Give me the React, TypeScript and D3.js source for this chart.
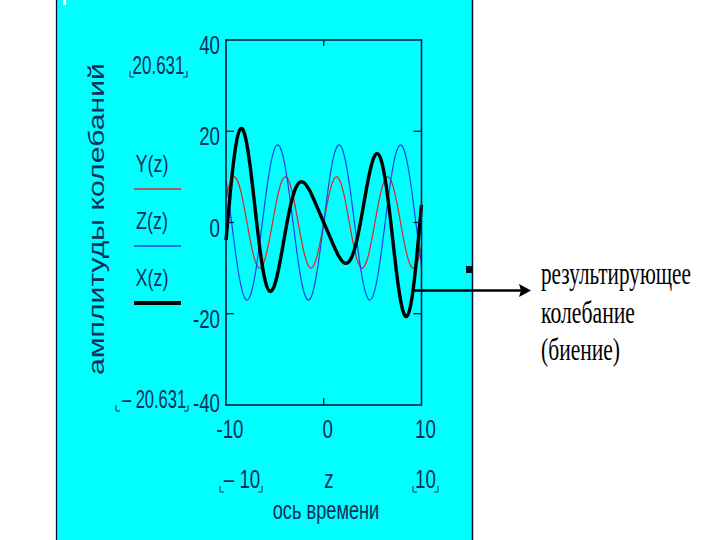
import React, { useLayoutEffect, useRef, useState } from "react";
import * as d3 from "d3";

// z samples (ось времени)
const zSamples = [
  -10, -9.5, -9, -8.5, -8, -7.5, -7, -6.5, -6, -5.5, -5, -4.5, -4, -3.5, -3, -2.5, -2, -1.5, -1, -0.5,
  0, 0.5, 1, 1.5, 2, 2.5, 3, 3.5, 4, 4.5, 5, 5.5, 6, 6.5, 7, 7.5, 8, 8.5, 9, 9.5, 10,
];
// Y(z) – red
const yValues = [
  5.37, 9.19, 9.81, 7.0, 1.74, -4.12, -8.55, -9.99, -7.94, -3.12, 2.79, 7.73, 9.96, 8.72, 4.43, -1.41, -6.75, -9.74, -9.32, -5.65,
  0, 5.65, 9.32, 9.74, 6.75, 1.41, -4.43, -8.72, -9.96, -7.73, -2.79, 3.12, 7.94, 9.99, 8.55, 4.12, -1.74, -7.0, -9.81, -9.19, -5.37,
];
// Z(z) – blue
const zValues = [
  9.25, 1.28, -7.01, -13.57, -16.82, -15.95, -11.17, -3.66, 4.75, 11.99, 16.3, 16.62, 12.87, 5.96, -2.4, -10.17, -15.46, -16.96, -14.31, -8.15,
  0, 8.15, 14.31, 16.96, 15.46, 10.17, 2.4, -5.96, -12.87, -16.62, -16.3, -11.99, -4.75, 3.66, 11.17, 15.95, 16.82, 13.57, 7.01, -1.28, -9.25,
];
// X(z) – black (result)
const xValues = [
  -3.88, 7.91, 16.82, 20.57, 18.56, 11.83, 2.62, -6.33, -12.69, -15.11, -13.51, -8.89, -2.91, 2.76, 6.83, 8.76, 8.71, 7.22, 4.99, 2.5,
  0, -2.5, -4.99, -7.22, -8.71, -8.76, -6.83, -2.76, 2.91, 8.89, 13.51, 15.11, 12.69, 6.33, -2.62, -11.83, -18.56, -20.57, -16.82, -7.91, 3.88,
];

const yTicks = [40, 20, 0, -20, -40];
const yTickLabels = ["40", "20", "0", "-20", "-40"];
const xTicks = [-10, 0, 10];
const xTickLabels = ["-10", "0", "10"];
const innerTicksY = [20, 0, -20];
const yLimitLabels = ["20.631", "– 20.631"];
const xLimitLabels = ["– 10", "10"];
const legendNames = ["Y(z)", "Z(z)", "X(z)"];
const rightText = ["результирующее", "колебание", "(биение)"];

const TXT = "#10305a";
const SANS = "'Liberation Sans', Arial, sans-serif";
const SERIF = "'Liberation Serif', 'Times New Roman', serif";

function NText(props: any) {
  const { x, y, sx = 0.75, anchor = "start", size = 24, fill = TXT, children } = props;
  return (
    <text
      transform={`translate(${x},${y}) scale(${sx},1)`}
      textAnchor={anchor}
      fontSize={size}
      fontFamily={SANS}
      fill={fill}
    >
      {children}
    </text>
  );
}

// text squeezed horizontally to a target width (measured, then scaled)
function FitText({ x, y, width, size, family, fill, children }: any) {
  const ref = useRef<SVGTextElement>(null);
  const [s, setS] = useState(0.68);
  useLayoutEffect(() => {
    if (ref.current) {
      const w = ref.current.getComputedTextLength();
      if (w > 0) setS(width / w);
    }
  }, [width, children]);
  return (
    <text
      ref={ref}
      transform={`translate(${x},${y}) scale(${s},1)`}
      fontSize={size}
      fontFamily={family}
      fill={fill}
    >
      {children}
    </text>
  );
}

function Brackets({ x1, x2, y }: any) {
  return (
    <path
      d={`M${x1},${y - 6}V${y}H${x1 + 4}M${x2},${y - 6}V${y}H${x2 - 4}`}
      fill="none"
      stroke={TXT}
      strokeWidth={1}
    />
  );
}

export default function App() {
  const x = d3.scaleLinear().domain([-10, 10]).range([226, 421.5]);
  const y = d3.scaleLinear().domain([-40, 40]).range([405, 40]);
  const mk = (vals: number[]) =>
    d3
      .line<number>()
      .x((_, i) => x(zSamples[i]))
      .y((d) => y(d))
      .curve(d3.curveNatural)(vals) as string;

  const series = [
    { name: legendNames[0], vals: yValues, color: "#d42a1e", w: 1.2 },
    { name: legendNames[1], vals: zValues, color: "#1f3fe6", w: 1.2 },
    { name: legendNames[2], vals: xValues, color: "#000000", w: 3.4 },
  ];

  return (
    <svg
      width={720}
      height={540}
      style={{ position: "absolute", left: 0, top: 0, background: "#fff" }}
    >
      <rect x={0} y={0} width={720} height={540} fill="#ffffff" />
      {/* cyan panel */}
      <rect x={57} y={0} width={415} height={540} fill="#00ffff" />
      <line x1={56.5} x2={56.5} y1={0} y2={540} stroke="#0a1030" strokeWidth={1.3} />
      <line x1={472.5} x2={472.5} y1={0} y2={540} stroke="#0a1030" strokeWidth={1.5} />
      <rect x={63} y={0} width={3} height={5} fill="#ffffff" />

      {/* rotated y title */}
      <text
        transform="translate(104,219) rotate(-90)"
        textAnchor="middle"
        fontSize={22}
        fontFamily={SANS}
        fill={TXT}
        textLength={312}
        lengthAdjust="spacingAndGlyphs"
      >
        амплитуды колебаний
      </text>

      {/* y limits */}
      <NText x={158.5} y={74} anchor="middle" size={25} sx={0.68}>
        {yLimitLabels[0]}
      </NText>
      <Brackets x1={130} x2={187} y={77} />
      <NText x={154} y={408} anchor="middle" size={25} sx={0.66}>
        {yLimitLabels[1]}
      </NText>
      <Brackets x1={116} x2={188} y={411} />

      {/* legend */}
      {series.map((s, i) => (
        <g key={s.name}>
          <NText x={152} y={172 + i * 57} anchor="middle" size={24}>
            {s.name}
          </NText>
          <line
            x1={134}
            x2={181}
            y1={189 + i * 57}
            y2={189 + i * 57}
            stroke={s.color}
            strokeWidth={i === 2 ? 4 : 1.6}
          />
        </g>
      ))}

      {/* y tick labels */}
      {yTicks.map((t, i) => (
        <NText key={t} x={220} y={Math.min(y(t) + 14, 412)} anchor="end" size={25}>
          {yTickLabels[i]}
        </NText>
      ))}
      {/* x tick labels */}
      {xTicks.map((t, i) => (
        <NText key={t} x={x(t) + 4} y={438} anchor="middle" size={25}>
          {xTickLabels[i]}
        </NText>
      ))}
      {/* x limits & name */}
      <NText x={242} y={488} anchor="middle" size={25}>
        {xLimitLabels[0]}
      </NText>
      <Brackets x1={220} x2={262} y={492} />
      <NText x={329} y={488} anchor="middle" size={25}>
        z
      </NText>
      <NText x={425.5} y={488} anchor="middle" size={25}>
        {xLimitLabels[1]}
      </NText>
      <Brackets x1={413} x2={438} y={492} />
      <NText x={326} y={519} anchor="middle" size={26} sx={0.7}>
        ось времени
      </NText>

      {/* curves */}
      {series.map((s) => (
        <path key={s.name} d={mk(s.vals)} fill="none" stroke={s.color} strokeWidth={s.w} strokeLinejoin="round" />
      ))}

      {/* frame & ticks */}
      <rect
        x={x(-10)}
        y={y(40)}
        width={x(10) - x(-10)}
        height={y(-40) - y(40)}
        fill="none"
        stroke="#0a1a40"
        strokeWidth={1.6}
      />
      {innerTicksY.map((t) => (
        <g key={t}>
          <line x1={x(-10)} x2={x(-10) + 8} y1={y(t)} y2={y(t)} stroke="#0a1a40" strokeWidth={1.3} />
          <line x1={x(10)} x2={x(10) - 8} y1={y(t)} y2={y(t)} stroke="#0a1a40" strokeWidth={1.3} />
        </g>
      ))}
      <line x1={x(0)} x2={x(0)} y1={y(40)} y2={y(40) + 6} stroke="#0a1a40" strokeWidth={1.3} />
      <line x1={x(0)} x2={x(0)} y1={y(-40)} y2={y(-40) - 7} stroke="#0a1a40" strokeWidth={1.3} />

      {/* annotation */}
      <rect x={466} y={266} width={6} height={7} fill="#0a0a20" />
      <line x1={414} x2={522} y1={290.5} y2={290.5} stroke="#000" strokeWidth={2.6} />
      <path d="M531,290.5L519,284L521,290.5L519,297Z" fill="#000" />
      {rightText.map((t, i) => (
        <FitText
          key={t}
          x={541}
          y={[284, 323, 360][i]}
          width={[150, 94, 79][i]}
          size={31}
          family={SERIF}
          fill="#000"
        >
          {t}
        </FitText>
      ))}
    </svg>
  );
}
